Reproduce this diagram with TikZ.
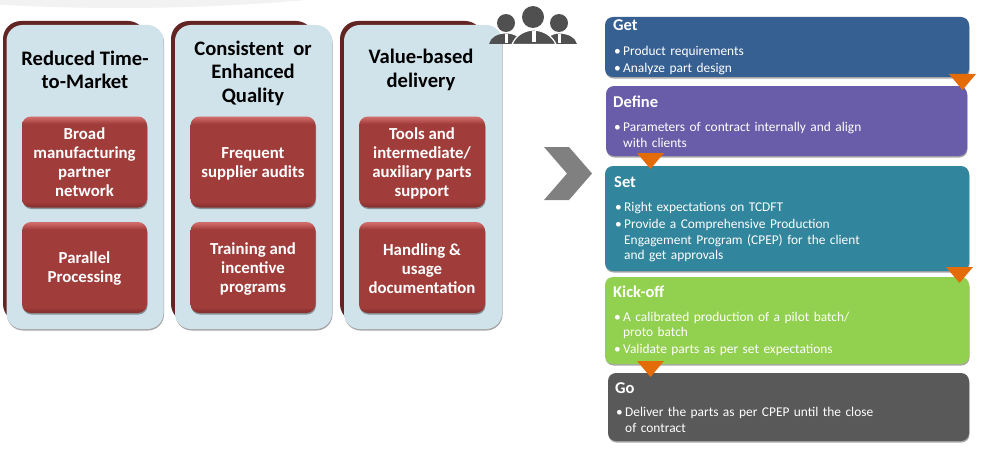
\documentclass[tikz,border=0pt]{standalone}
\usepackage{fontspec}
\setmainfont{Carlito}
\usetikzlibrary{shadows}
\definecolor{panelblue}{HTML}{D0E2EA}
\definecolor{paneldark}{HTML}{632523}
\definecolor{redmain}{HTML}{A03C3A}
\definecolor{redtop}{HTML}{CF6A68}
\definecolor{reddark}{HTML}{8A3230}
\definecolor{getcol}{HTML}{366092}
\definecolor{definecol}{HTML}{695CA8}
\definecolor{setcol}{HTML}{31859C}
\definecolor{kickcol}{HTML}{92D050}
\definecolor{gocol}{HTML}{595959}
\definecolor{pointcol}{HTML}{E36C09}
\definecolor{personcol}{HTML}{505050}
\pgfdeclareverticalshading{redbevel}{100bp}{color(0bp)=(reddark); color(26bp)=(reddark); color(28bp)=(redmain); color(71bp)=(redmain); color(74.5bp)=(redtop); color(100bp)=(redtop)}
\tikzset{
  softshadow/.style={drop shadow={shadow xshift=0.5pt, shadow yshift=-1.5pt, opacity=0.35, fill=black}},
  panel/.style={fill=panelblue, rounded corners=16pt, softshadow},
  backing/.style={fill=paneldark, rounded corners=18pt},
  paneltitle/.style={font=\bfseries\fontsize{20.6}{23.6}\selectfont, align=center, text=black},
  redbox/.style={shading=redbevel, rounded corners=9pt, softshadow},
  redtext/.style={font=\bfseries\fontsize{16.8}{19}\selectfont, align=center, text=white},
  stepbox/.style={rounded corners=8pt, softshadow},
  steptitle/.style={anchor=base west, inner sep=0pt, font=\bfseries\fontsize{16.5}{18}\selectfont, text=white},
  stepbody/.style={anchor=north west, inner sep=0pt, text width=340pt, align=left, font=\fontsize{13.4}{15.5}\selectfont, text=white},
  pointer/.style={fill=pointcol},
  person/.style={fill=personcol}
}
\newcommand{\stepitem}[1]{\hangindent=9pt\hangafter=1\noindent\makebox[9pt][l]{\textbullet}#1\par\vspace{1.5pt}}
\begin{document}
\begin{tikzpicture}[x=1pt, y=-1pt]
  \useasboundingbox (0,0) rectangle (985,452);
  % faint band along the top
  \begin{scope}
    \clip (0,0) rectangle (985,452);
    \fill[black!5] (120,-70) ellipse (420 and 78);
  \end{scope}
  % left panels
  \fill[backing] (3,21) rectangle (146,322);
  \fill[backing] (171,21) rectangle (314,322);
  \fill[backing] (340,21) rectangle (483,322);
  \fill[panel] (6.5,25) rectangle (163.5,329);
  \fill[panel] (175,25) rectangle (332,329);
  \fill[panel] (344,25) rectangle (502,329);
  \node[paneltitle] (timetitle) at (85,70) {Reduced Time-\\to-Market};
  \node[paneltitle] (qualitytitle) at (253,73) {Consistent~ or\\Enhanced\\Quality};
  \node[paneltitle] (valuetitle) at (421,70) {Value-based\\delivery};
  % red boxes
  \path[redbox] (22,116.5) rectangle (147,207.5);
  \path[redbox] (22,222) rectangle (147,313);
  \path[redbox] (190.5,116.5) rectangle (315.5,207.5);
  \path[redbox] (190.5,222) rectangle (315.5,313);
  \path[redbox] (359,116.5) rectangle (485,207.5);
  \path[redbox] (359,222) rectangle (485,313);
  \node[redtext] (network) at (84.5,162.5) {Broad\\manufacturing\\partner\\network};
  \node[redtext] (parallel) at (84.5,269) {Parallel\\Processing};
  \node[redtext] (audits) at (253,164) {Frequent\\supplier audits};
  \node[redtext] (training) at (253,269) {Training and\\incentive\\programs};
  \node[redtext] (tools) at (422,163) {Tools and\\intermediate/\\auxiliary parts\\support};
  \node[redtext] (handling) at (422,268.5) {Handling \&\\usage\\documentation};
  % people
  \fill[person] (506,23) circle (9);
  \fill[person] (559,23) circle (9);
  \fill[person] (489,44) .. controls (491,37) and (497,34) .. (506,33.5) .. controls (515,34) and (520,37) .. (523,44) -- cycle;
  \fill[person] (544,44) .. controls (547,37) and (552,34) .. (559,33.5) .. controls (568,34) and (575,37) .. (577,44) -- cycle;
  \fill[white] (505,34) -- (508,34) -- (508,43) -- (505,43) -- cycle;
  \fill[white] (558,34) -- (561,34) -- (561,43) -- (558,43) -- cycle;
  \fill[person, draw=white, line width=1.2pt] (512,44.5) .. controls (516,35) and (524,30.5) .. (533.5,30) .. controls (543,30.5) and (552,35) .. (556,44.5) -- cycle;
  \fill[person] (533,17) circle (11);
  \fill[white] (532,31) -- (535.5,31) -- (535.5,42) -- (532,42) -- cycle;
  % chevron
  \fill[gray] (544,147) -- (569,147) -- (592,173.5) -- (569,200) -- (544,200) -- (567,173.5) -- cycle;
  % steps
  \path[stepbox, fill=getcol] (605,17) rectangle (969,77);
  \path[stepbox, fill=definecol] (606,86) rectangle (967,156);
  \path[stepbox, fill=setcol] (605,166) rectangle (969,271);
  \path[stepbox, fill=kickcol] (605,277) rectangle (969,364);
  \path[stepbox, fill=gocol] (608,373) rectangle (969,441);
  \node[steptitle] (gettitle) at (613,31) {Get};
  \node[steptitle] (definetitle) at (613,107) {Define};
  \node[steptitle] (settitle) at (614,187) {Set};
  \node[steptitle] (kicktitle) at (613,297) {Kick-off};
  \node[steptitle] (gotitle) at (615,393) {Go};
  \node[stepbody] (getbody) at (614,46) {\stepitem{Product requirements}\stepitem{Analyze part design}};
  \node[stepbody] (definebody) at (614,122) {\stepitem{Parameters of contract internally and align\newline with clients}};
  \node[stepbody] (setbody) at (615,202) {\stepitem{Right expectations on TCDFT}\stepitem{Provide a Comprehensive Production\newline Engagement Program (CPEP) for the client\newline and get approvals}};
  \node[stepbody] (kickbody) at (614,311.5) {\stepitem{A calibrated production of a pilot batch/\newline proto batch}\stepitem{Validate parts as per set expectations}};
  \node[stepbody] (gobody) at (616,407) {\stepitem{Deliver the parts as per CPEP until the close\newline of contract}};
  % pointers
  \fill[pointer] (949,74) -- (976,74) -- (962.5,90) -- cycle;
  \fill[pointer] (637,153) -- (664,153) -- (650.5,169) -- cycle;
  \fill[pointer] (946,267) -- (973,267) -- (959.5,283) -- cycle;
  \fill[pointer] (637,361) -- (664,361) -- (650.5,377) -- cycle;
\end{tikzpicture}
\end{document}
